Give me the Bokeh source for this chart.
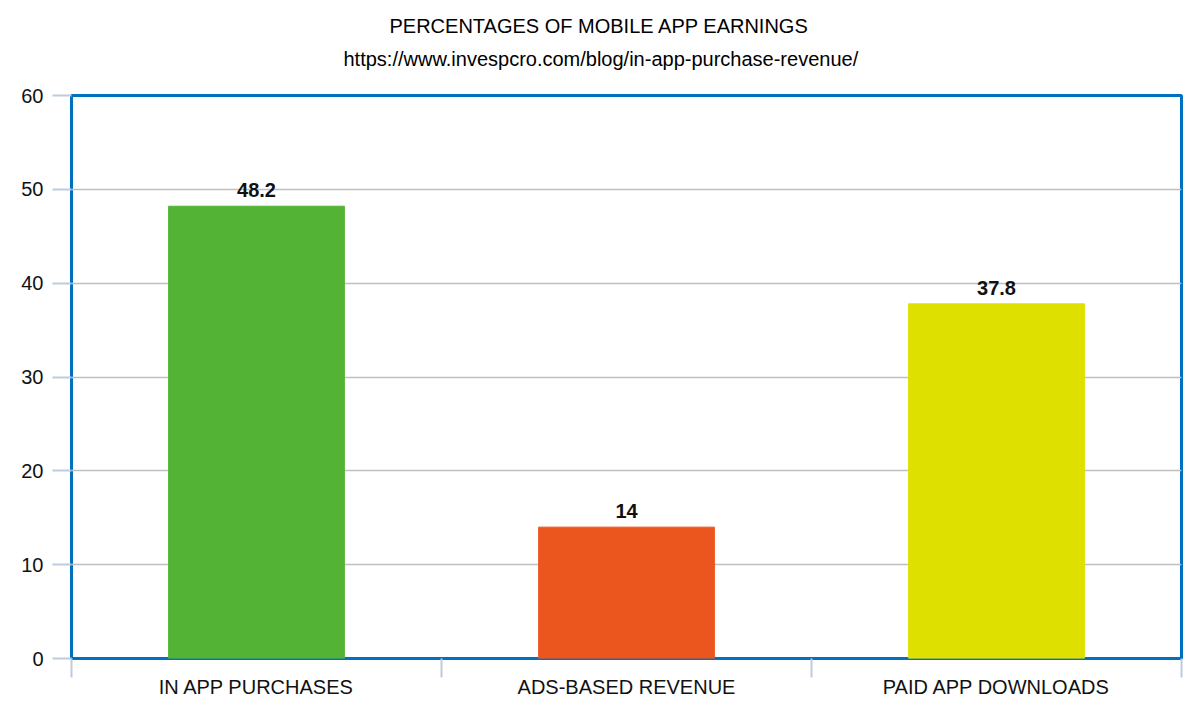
from bokeh.plotting import figure
from bokeh.models import FixedTicker, Range1d, Title, ColumnDataSource
from bokeh.embed import file_html
from bokeh.resources import INLINE

# Mobile app earnings split (percent)
categories = ["IN APP PURCHASES", "ADS-BASED REVENUE", "PAID APP DOWNLOADS"]
values = [48.2, 14, 37.8]
bar_colors = ["#52B335", "#EB561E", "#DEE000"]
value_labels = ["48.2", "14", "37.8"]
y_ticks = [0, 10, 20, 30, 40, 50, 60]

FONT = "Liberation Sans"
positions = [i + 0.5 for i in range(len(categories))]

src = ColumnDataSource(dict(x=positions, top=values, color=bar_colors, label=value_labels))

p = figure(width=1200, height=724, output_backend="svg", toolbar_location=None,
           x_range=Range1d(0, len(categories)), y_range=Range1d(0, 60),
           min_border_left=71, min_border_right=19, min_border_top=95, min_border_bottom=66)

# titles centred on the page rather than on the plot frame
p.title.visible = False
p.add_layout(Title(text="https://www.invespcro.com/blog/in-app-purchase-revenue/", align="left",
                   offset=272, text_font=FONT, text_font_size="20px", text_font_style="normal",
                   text_color="#000000", standoff=52), "above")
p.add_layout(Title(text="PERCENTAGES OF MOBILE APP EARNINGS", align="left",
                   offset=318, text_font=FONT, text_font_size="20px", text_font_style="normal",
                   text_color="#000000", standoff=-34), "above")

p.vbar(x="x", top="top", width=0.475, color="color", source=src)
p.text(x="x", y="top", text="label", source=src, text_align="center", text_baseline="bottom",
       y_offset=-9, text_font_size="20px", text_font_style="bold", text_color="#111111",
       text_font={"value": FONT})

# frame border
p.outline_line_color = "#0070C0"
p.outline_line_width = 3
p.background_fill_color = "white"
p.border_fill_color = "white"

# horizontal grid
p.xgrid.visible = False
p.ygrid.ticker = FixedTicker(ticks=y_ticks[1:-1])
p.ygrid.grid_line_color = "#BFBFBF"
p.ygrid.grid_line_width = 1.5

# y axis
p.yaxis.ticker = FixedTicker(ticks=y_ticks)
p.yaxis.axis_line_color = None
p.yaxis.major_tick_in = 0
p.yaxis.major_tick_out = 19
p.yaxis.major_tick_line_color = "#BCCCE0"
p.yaxis.major_tick_line_width = 2
p.yaxis.minor_tick_line_color = None
p.yaxis.major_label_standoff = 9
p.yaxis.major_label_text_font = FONT
p.yaxis.major_label_text_font_size = "20px"
p.yaxis.major_label_text_color = "#111111"

# x axis: labels at category centers, ticks at category boundaries
p.xaxis.ticker = FixedTicker(ticks=positions, minor_ticks=list(range(len(categories) + 1)))
p.xaxis.major_label_overrides = {pos: c for pos, c in zip(positions, categories)}
p.xaxis.axis_line_color = None
p.xaxis.major_tick_line_color = None
p.xaxis.minor_tick_in = 0
p.xaxis.minor_tick_out = 19
p.xaxis.minor_tick_line_color = "#BCCCE0"
p.xaxis.minor_tick_line_width = 2
p.xaxis.major_label_standoff = -2
p.xaxis.major_label_text_font = FONT
p.xaxis.major_label_text_font_size = "20px"
p.xaxis.major_label_text_color = "#111111"

open("out.html", "w").write(file_html(p, INLINE))
